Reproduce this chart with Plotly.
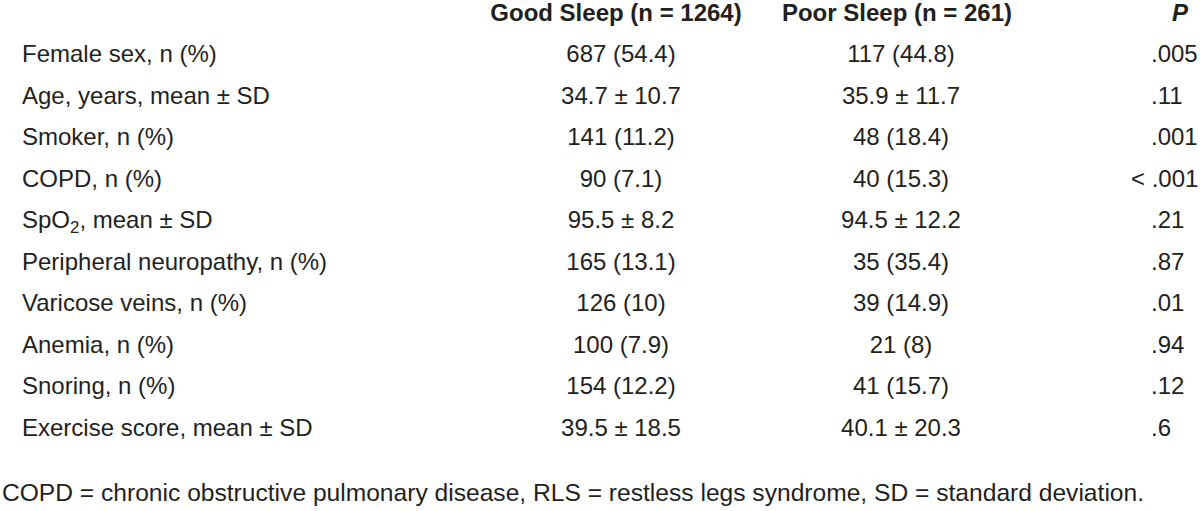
import plotly.graph_objects as go

# ---- data ----
headers = ["<b>Good Sleep (n = 1264)</b>", "<b>Poor Sleep (n = 261)</b>", "<b><i>P</i></b>"]
variables = [
    "Female sex, n (%)",
    "Age, years, mean ± SD",
    "Smoker, n (%)",
    "COPD, n (%)",
    "SpO<sub>2</sub>, mean ± SD",
    "Peripheral neuropathy, n (%)",
    "Varicose veins, n (%)",
    "Anemia, n (%)",
    "Snoring, n (%)",
    "Exercise score, mean ± SD",
]
good_sleep = ["687 (54.4)", "34.7 ± 10.7", "141 (11.2)", "90 (7.1)", "95.5 ± 8.2",
              "165 (13.1)", "126 (10)", "100 (7.9)", "154 (12.2)", "39.5 ± 18.5"]
poor_sleep = ["117 (44.8)", "35.9 ± 11.7", "48 (18.4)", "40 (15.3)", "94.5 ± 12.2",
              "35 (35.4)", "39 (14.9)", "21 (8)", "41 (15.7)", "40.1 ± 20.3"]
p_values = [".005", ".11", ".001", "< .001", ".21", ".87", ".01", ".94", ".12", ".6"]
footnote = "COPD = chronic obstructive pulmonary disease, RLS = restless legs syndrome, SD = standard deviation."

# ---- layout ----
W, H = 1200, 511
FONT = "Liberation Sans, Arial, sans-serif"
COLOR = "#231f20"
SIZE = 24
header_y = 15
row_y0, row_step = 56, 41.5
header_x = [616, 897, 1180]
col_x = {"label": 22, "good": 621, "poor": 901, "p": 1151}

n = len(variables)
row_ys = [row_y0 + i * row_step for i in range(n)]
# p-values aligned on the decimal point; a leading "< " hangs to the left
p_xs = [col_x["p"] - (20 if p.startswith("<") else 0) for p in p_values]

fig = go.Figure()

def add_text(xs, ys, texts, pos, size=SIZE):
    fig.add_trace(go.Scatter(
        x=xs, y=ys, text=texts, mode="text", textposition=pos,
        textfont=dict(family=FONT, size=size, color=COLOR),
        hoverinfo="skip", showlegend=False, cliponaxis=False,
    ))

# headers
add_text(header_x, [header_y] * 3, headers, "middle center")
# body
add_text([col_x["label"]] * n, row_ys, variables, "middle right")
add_text([col_x["good"]] * n, row_ys, good_sleep, "middle center")
add_text([col_x["poor"]] * n, row_ys, poor_sleep, "middle center")
add_text(p_xs, row_ys, p_values, "middle right")
# footnote
add_text([573], [495], [footnote], "middle center", size=24.6)

fig.update_layout(
    width=W, height=H,
    margin=dict(l=0, r=0, t=0, b=0),
    paper_bgcolor="white", plot_bgcolor="white",
    xaxis=dict(range=[0, W], visible=False, fixedrange=True),
    yaxis=dict(range=[H, 0], visible=False, fixedrange=True),
    hovermode=False,
)

fig.write_html("out.html", config={"displayModeBar": False},
               post_script="document.body.style.margin='0';")
